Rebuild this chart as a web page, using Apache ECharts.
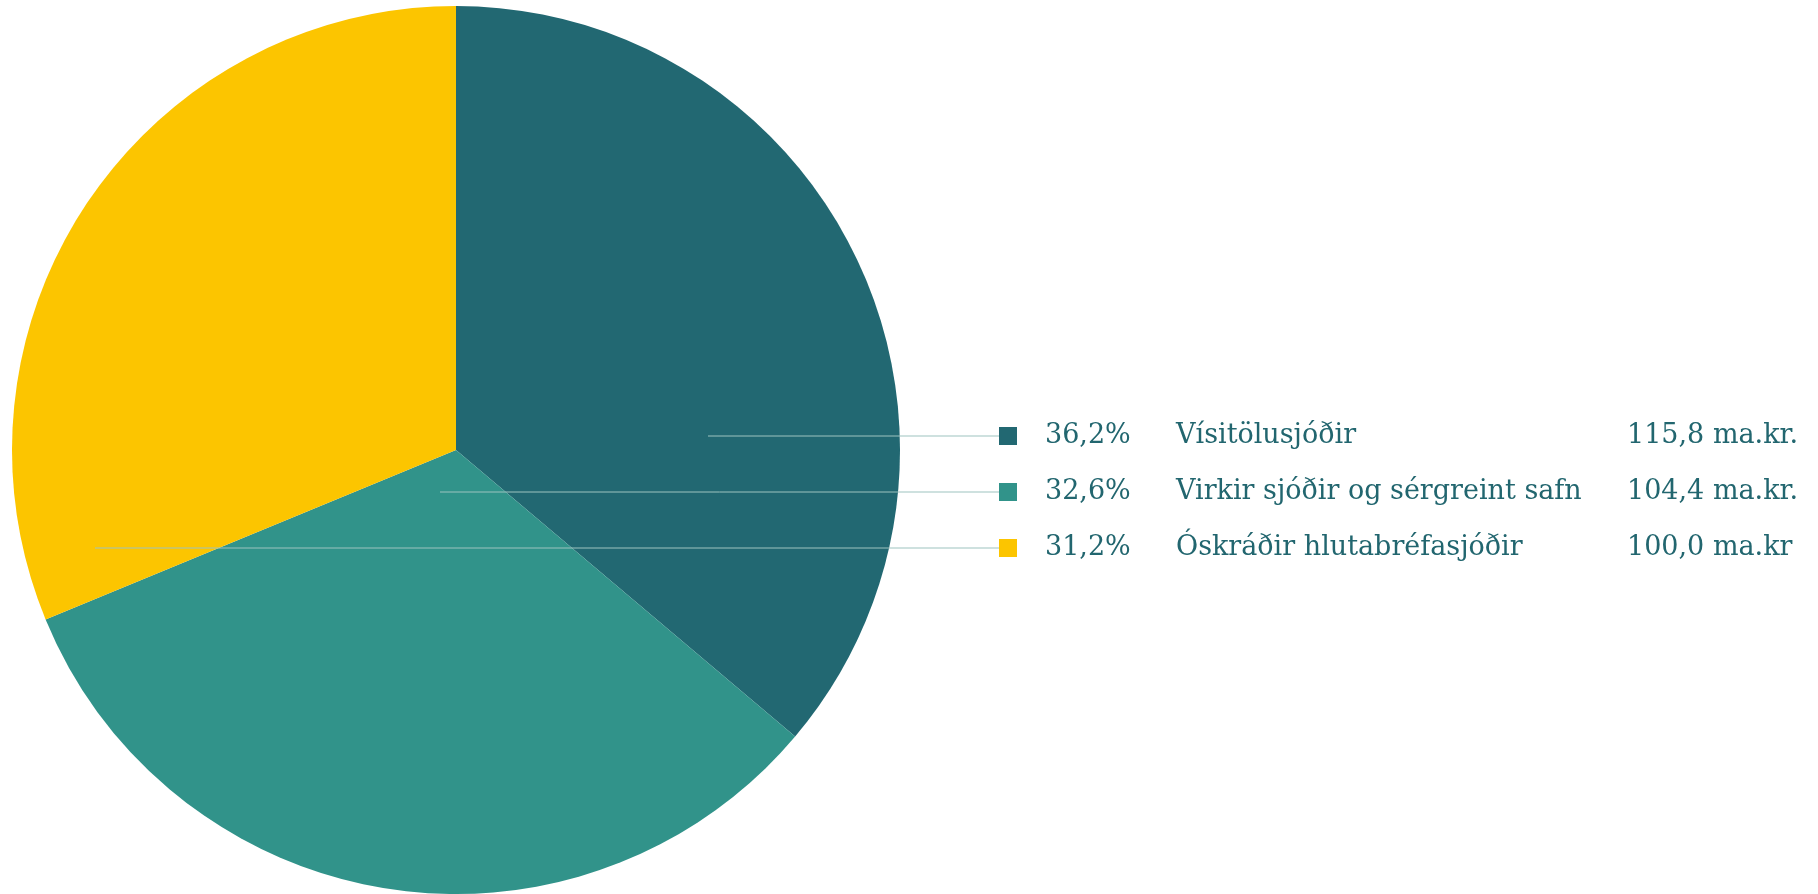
<!DOCTYPE html>
<html>
<head>
<meta charset="utf-8">
<title>Sjóðir</title>
<script src="https://cdn.jsdelivr.net/npm/echarts@6/dist/echarts.min.js"></script>
<style>
  html, body { margin: 0; padding: 0; background: #fff; }
  #chart { width: 1818px; height: 894px; }
</style>
</head>
<body>
<div id="chart"></div>
<script>
const categories = ['Vísitölusjóðir', 'Virkir sjóðir og sérgreint safn', 'Óskráðir hlutabréfasjóðir']
const values = [115.8, 104.4, 100.0]
const valueLabels = ['115,8 ma.kr.', '104,4 ma.kr.', '100,0 ma.kr']
const colors = ['#226872', '#31938a', '#fcc500']

// legend rows + leader line start points (px)
const rowX = 999
const rowY = [436, 492, 548]
const lineStartX = [708, 440, 95]

const chart = echarts.init(document.getElementById('chart'))

const pieBase = {
  type: 'pie',
  center: [456, 450],
  radius: 444,
  startAngle: 90,
  clockwise: true,
  avoidLabelOverlap: false,
  emphasis: { disabled: true }
}

chart.setOption({
  animation: false,
  textStyle: { fontFamily: 'DejaVu Serif' },
  series: [
    // the slices
    Object.assign({}, pieBase, {
      z: 2,
      data: categories.map((name, i) => ({ name: name, value: values[i], itemStyle: { color: colors[i] } })),
      label: { show: false },
      labelLine: { show: false }
    }),
    // same pie, invisible, only to put legend rows and leader lines on top
    Object.assign({}, pieBase, {
      z: 5,
      silent: true,
      data: categories.map((name, i) => ({
        name: name,
        value: values[i],
        itemStyle: { color: 'rgba(0,0,0,0)' },
        label: { rich: { sq: { width: 18, height: 18, backgroundColor: colors[i] } } }
      })),
      label: {
        show: true,
        position: 'outside',
        color: '#22666f',
        fontFamily: 'DejaVu Serif',
        fontSize: 27,
        formatter: p => {
          const pct = p.percent.toFixed(1).replace('.', ',') + '%'
          return '{sq|}{gap|}{pct|' + pct + '}{name|' + p.name + '}{val|' + valueLabels[p.dataIndex] + '}'
        },
        rich: {
          gap: { width: 28 },
          pct: { width: 131, fontSize: 27, color: '#22666f', fontFamily: 'DejaVu Serif' },
          name: { width: 451, fontSize: 27, color: '#22666f', fontFamily: 'DejaVu Serif' },
          val: { fontSize: 27, color: '#22666f', fontFamily: 'DejaVu Serif' }
        }
      },
      labelLine: {
        show: true,
        lineStyle: { color: '#9dc3bf', width: 1 }
      },
      labelLayout: params => {
        const i = params.dataIndex
        const y = rowY[i]
        return {
          x: rowX,
          y: y,
          align: 'left',
          verticalAlign: 'middle',
          hideOverlap: false,
          labelLinePoints: [[lineStartX[i], y], [lineStartX[i], y], [rowX, y]]
        }
      }
    })
  ]
})
</script>
</body>
</html>
